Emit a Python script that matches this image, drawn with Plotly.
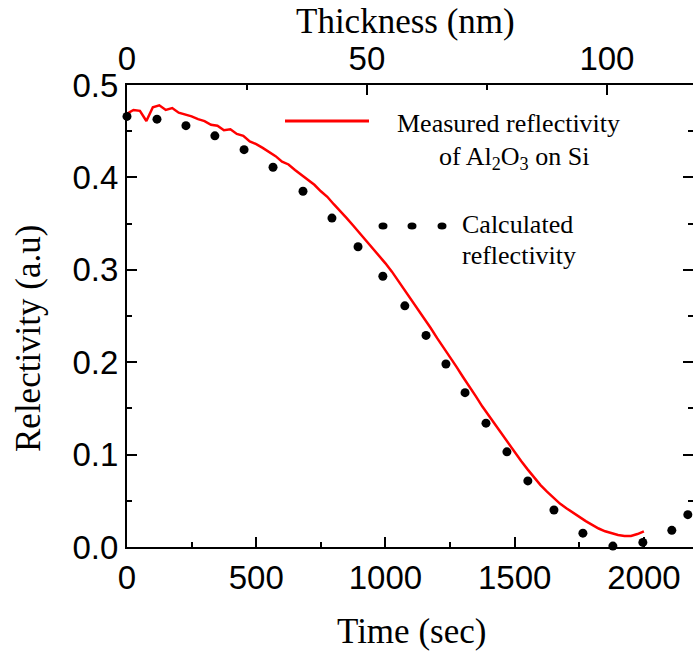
import plotly.graph_objects as go

# ---- data ----
time_measured = list(range(0, 2001, 25))
refl_measured = [
    0.469, 0.473, 0.472, 0.461, 0.476, 0.478, 0.473, 0.475, 0.470, 0.468,
    0.466, 0.463, 0.461, 0.457, 0.456, 0.451, 0.452, 0.447, 0.445, 0.439,
    0.436, 0.432, 0.427, 0.423, 0.417, 0.414, 0.408, 0.403, 0.397, 0.392,
    0.385, 0.379, 0.371, 0.364, 0.356, 0.348, 0.340, 0.332, 0.324, 0.316,
    0.307, 0.298, 0.288, 0.277, 0.267, 0.257, 0.247, 0.237, 0.226, 0.216,
    0.206, 0.195, 0.184, 0.174, 0.163, 0.152, 0.142, 0.132, 0.122, 0.112,
    0.103, 0.093, 0.084, 0.075, 0.067, 0.060, 0.053, 0.047, 0.042, 0.037,
    0.032, 0.028, 0.024, 0.020, 0.017, 0.015, 0.013, 0.012, 0.012, 0.014,
    0.017,
]

time_calc = [0, 116, 228, 340, 453, 565, 681, 793, 894, 990, 1075, 1157,
             1234, 1308, 1389, 1470, 1551, 1652, 1764, 1880, 1996, 2108, 2170]
refl_calc = [0.466, 0.463, 0.456, 0.445, 0.430, 0.411, 0.385, 0.356, 0.325,
             0.293, 0.261, 0.229, 0.198, 0.167, 0.134, 0.103, 0.0715, 0.040,
             0.015, 0.001, 0.005, 0.018, 0.035]

time_range = [0, 2190]
thickness_per_sec = 100 / 1857          # 100 nm reached at ~1857 s
refl_range = [0, 0.5]

x_ticks = [0, 500, 1000, 1500, 2000]
y_ticks = [0.0, 0.1, 0.2, 0.3, 0.4, 0.5]
y_ticklabels = ["0.0", "0.1", "0.2", "0.3", "0.4", "0.5"]
thick_ticks = [0, 50, 100]

W, H = 693, 653
PL, PR, PT, PB = 127, 693, 85, 547          # plot box in page pixels
ML, MR, MT, MB = PL, W - PR, PT, H - PB
PW, PH = PR - PL, PB - PT


def px(x):
    return (x - PL) / PW


def py(y):
    return (PB - y) / PH


SANS = "Liberation Sans, Arial, sans-serif"
SERIF = "Liberation Serif, Times New Roman, serif"
TICKFONT = dict(family=SANS, size=33, color="black")

fig = go.Figure()

fig.add_trace(go.Scatter(
    x=time_measured, y=refl_measured, mode="lines",
    line=dict(color="#ff0000", width=2.5), showlegend=False,
    hoverinfo="skip",
))
fig.add_trace(go.Scatter(
    x=time_calc, y=refl_calc, mode="markers",
    marker=dict(color="black", size=9, symbol="circle"),
    cliponaxis=False, showlegend=False, hoverinfo="skip",
))
# invisible trace tying the thickness axis and right axis
fig.add_trace(go.Scatter(
    x=[t * thickness_per_sec for t in time_measured], y=refl_measured,
    xaxis="x2", yaxis="y2", mode="lines", opacity=0,
    showlegend=False, hoverinfo="skip",
))

axis_common = dict(
    showgrid=False, zeroline=False, ticks="inside", ticklen=10,
    tickwidth=2, tickcolor="black", linecolor="black", linewidth=2,
)
minor_common = dict(ticks="inside", ticklen=5, tickwidth=2, tickcolor="black")

fig.update_layout(
    width=W, height=H,
    margin=dict(l=ML, r=MR, t=MT, b=MB, pad=0),
    paper_bgcolor="white", plot_bgcolor="white",
    xaxis=dict(
        range=time_range, tickvals=x_ticks, showline=True,
        tickfont=TICKFONT, minor=dict(dtick=250, **minor_common),
        **axis_common,
    ),
    yaxis=dict(
        range=refl_range, tickvals=y_ticks, ticktext=y_ticklabels,
        showline=True, tickfont=TICKFONT,
        minor=dict(dtick=0.05, **minor_common),
        **axis_common,
    ),
    xaxis2=dict(
        range=[time_range[0] * thickness_per_sec,
               time_range[1] * thickness_per_sec],
        overlaying="x", side="top", anchor="y", tickvals=thick_ticks,
        showline=True, tickfont=TICKFONT,
        minor=dict(dtick=25, **minor_common),
        **axis_common,
    ),
    yaxis2=dict(
        range=refl_range, overlaying="y", side="right", anchor="x",
        tickvals=y_ticks, showticklabels=False, showline=False,
        minor=dict(dtick=0.05, **minor_common),
        **axis_common,
    ),
)

annots = [
    dict(text="Time (sec)", x=px(411), y=py(631), size=35, angle=0,
         xanchor="center"),
    dict(text="Thickness (nm)", x=px(405), y=py(22), size=35, angle=0,
         xanchor="center"),
    dict(text="Relectivity (a.u)", x=px(28), y=py(339), size=35, angle=-90,
         xanchor="center"),
    dict(text="Measured reflectivity", x=px(395), y=py(123), size=26,
         angle=0, xanchor="left"),
    dict(text="of Al<sub>2</sub>O<sub>3</sub> on Si", x=px(437), y=py(158),
         size=26, angle=0, xanchor="left"),
    dict(text="Calculated", x=px(460), y=py(224), size=26, angle=0,
         xanchor="left"),
    dict(text="reflectivity", x=px(460), y=py(256), size=26, angle=0,
         xanchor="left"),
]
for a in annots:
    fig.add_annotation(
        text=a["text"], x=a["x"], y=a["y"], xref="paper", yref="paper",
        xanchor=a["xanchor"], yanchor="middle", textangle=a["angle"],
        showarrow=False, font=dict(family=SERIF, size=a["size"],
                                   color="black"),
    )

# legend samples
fig.add_shape(type="line", xref="paper", yref="paper",
              x0=px(285), x1=px(369), y0=py(121), y1=py(121),
              line=dict(color="#ff0000", width=3))
for cx in (383, 412, 442):
    fig.add_shape(type="circle", xref="paper", yref="paper",
                  x0=px(cx - 4.5), x1=px(cx + 4.5),
                  y0=py(226 + 3.5), y1=py(226 - 3.5),
                  fillcolor="black", line=dict(width=0))

fig.write_html(
    "out.html",
    config={"displayModeBar": False},
    post_script="document.documentElement.style.margin='0';"
                "document.body.style.margin='0';"
                "document.body.style.overflow='hidden';",
)
